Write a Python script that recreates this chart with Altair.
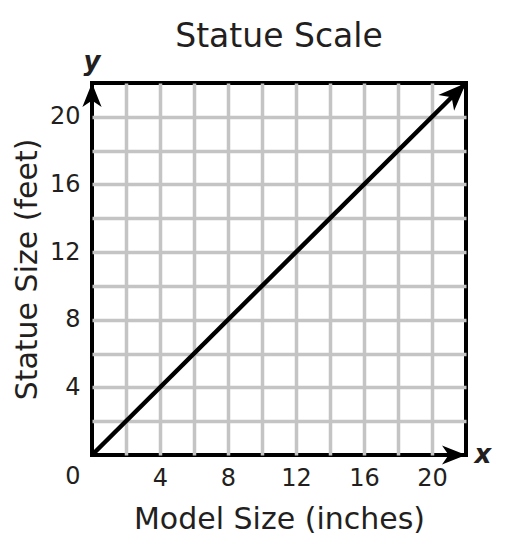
import altair as alt
import pandas as pd

# data
model_size = [0, 22]
statue_size = [0, 22]
grid_values = [2, 4, 6, 8, 10, 12, 14, 16, 18, 20]

FONT = "DejaVu Sans"
TXT = "#231f20"

line_df = pd.DataFrame({"model": model_size, "statue": statue_size})

xscale = alt.Scale(domain=[0, 22], nice=False, zero=True)
yscale = alt.Scale(domain=[0, 22], nice=False, zero=True)

label_expr = "datum.value % 4 == 0 ? datum.label : ''"

base = alt.Chart(line_df)

line = base.mark_line(color="black", strokeWidth=4.5, clip=False).encode(
    x=alt.X("model:Q", scale=xscale, title="Model Size (inches)",
            axis=alt.Axis(values=grid_values, labelExpr=label_expr, domain=False,
                          ticks=False, labelPadding=11, labelFontSize=24,
                          labelFont=FONT, labelColor=TXT, titleFont=FONT,
                          titleFontSize=30, titleFontWeight="normal",
                          titleColor=TXT, titlePadding=14, gridColor="#c4c4c4",
                          gridWidth=3.5, gridOpacity=1, labelFlush=False)),
    y=alt.Y("statue:Q", scale=yscale, title="Statue Size (feet)",
            axis=alt.Axis(values=grid_values, labelExpr=label_expr, domain=False,
                          ticks=False, labelPadding=12, labelFontSize=24,
                          labelFont=FONT, labelColor=TXT, titleFont=FONT,
                          titleFontSize=30, titleFontWeight="normal",
                          titleColor=TXT, titlePadding=7, gridColor="#c4c4c4",
                          gridWidth=3.5, gridOpacity=1, labelFlush=False)),
)

arrow_path = "M0,0 L0.8,2 L0,1.45 L-0.8,2 Z"

diag_df = pd.DataFrame({"model": [22], "statue": [22], "angle": [45]})
axis_arrow_df = pd.DataFrame({"model": [0, 22], "statue": [22, 0], "angle": [0, 90]})

diag_arrow = alt.Chart(diag_df).mark_point(
    shape=arrow_path, filled=True, color="black", opacity=1, size=784, clip=False
).encode(
    x=alt.X("model:Q", scale=xscale),
    y=alt.Y("statue:Q", scale=yscale),
    angle=alt.Angle("angle:Q", scale=None),
)

axis_arrows = alt.Chart(axis_arrow_df).mark_point(
    shape=arrow_path, filled=True, color="black", opacity=1, size=576, clip=False
).encode(
    x=alt.X("model:Q", scale=xscale),
    y=alt.Y("statue:Q", scale=yscale),
    angle=alt.Angle("angle:Q", scale=None),
)

zero_lbl = alt.Chart(pd.DataFrame({"model": [0], "statue": [0], "t": ["0"]})).mark_text(
    font=FONT, fontSize=24, color=TXT, dx=-19, dy=22, baseline="middle", align="center"
).encode(x=alt.X("model:Q", scale=xscale), y=alt.Y("statue:Q", scale=yscale), text="t:N")

x_lbl = alt.Chart(pd.DataFrame({"model": [22], "statue": [0], "t": ["x"]})).mark_text(
    font=FONT, fontSize=26, fontWeight="bold", fontStyle="italic", color=TXT,
    dx=17, dy=0, baseline="middle", align="center"
).encode(x=alt.X("model:Q", scale=xscale), y=alt.Y("statue:Q", scale=yscale), text="t:N")

y_lbl = alt.Chart(pd.DataFrame({"model": [0], "statue": [22], "t": ["y"]})).mark_text(
    font=FONT, fontSize=26, fontWeight="bold", fontStyle="italic", color=TXT,
    dx=0, dy=-13, baseline="alphabetic", align="center"
).encode(x=alt.X("model:Q", scale=xscale), y=alt.Y("statue:Q", scale=yscale), text="t:N")

chart = alt.layer(line, diag_arrow, axis_arrows, zero_lbl, x_lbl, y_lbl).properties(
    width=374,
    height=372,
    autosize=alt.AutoSizeParams(type="none"),
    padding={"left": 84, "top": 75, "right": 36, "bottom": 81},
    title=alt.TitleParams("Statue Scale", font=FONT, fontSize=33,
                          fontWeight="normal", color=TXT, frame="group",
                          anchor="middle", offset=6, dy=11),
).configure_view(stroke="black", strokeWidth=4)

chart.save("out.html", embed_options={"renderer": "svg", "actions": False})
